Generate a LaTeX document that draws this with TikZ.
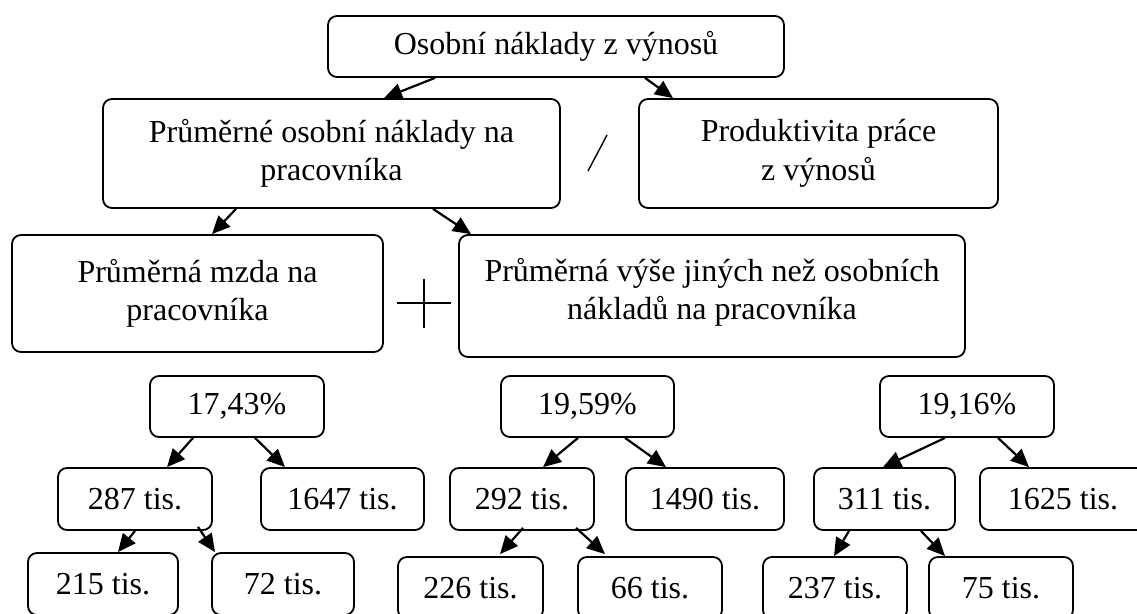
\documentclass[tikz,border=0pt]{standalone}
\usepackage{fontspec}
\setmainfont{Liberation Serif}
\usetikzlibrary{arrows.meta}
\begin{document}
\begin{tikzpicture}[x=1pt,y=-1pt,
  box/.style={draw, line width=1.8pt, rounded corners=9pt, inner sep=0pt, align=center,
    font=\fontsize{32}{38.5}\selectfont},
  bigrow/.style={box, minimum height=109pt},
  pct/.style={box, minimum height=61pt},
  num/.style={box, minimum height=62pt},
  arr/.style={line width=2.2pt, -{Triangle[length=18pt,width=16pt]}},
  sign/.style={line width=1.4pt},
]
\fill[white] (0,0) rectangle (1137,613);
\useasboundingbox (0,0) rectangle (1137,613);

% top levels
\node[box, minimum width=456pt, minimum height=61pt] (top) at (556,46.5) {Osobní náklady z výnosů};
\node[bigrow, minimum width=457pt] (p1) at (331.5,153.5) {Průměrné osobní náklady na\\pracovníka};
\node[bigrow, minimum width=359pt] (prod) at (818.5,153.5) {Produktivita práce\\z výnosů};
\node[box, minimum width=371pt, minimum height=117pt] (mzda) at (197.5,293.5) {Průměrná mzda na\\pracovníka};
\node[box, minimum width=506pt, minimum height=122pt] (p4) at (712,296) {Průměrná výše jiných než osobních\\nákladů na pracovníka\vphantom{\raisebox{-14pt}{x}}};

% operators
\coordinate (s1) at (607,135);
\coordinate (s2) at (588,171);
\draw[sign] (s1) -- (s2);
\coordinate (ph1) at (397,303);
\coordinate (ph2) at (451,303);
\coordinate (pv1) at (424,279);
\coordinate (pv2) at (424,328);
\draw[sign] (ph1) -- (ph2);
\draw[sign] (pv1) -- (pv2);

% percentages
\node[pct, minimum width=174pt] (pa) at (237,406.5) {17,43\%};
\node[pct, minimum width=173pt] (pb) at (587.5,406.5) {19,59\%};
\node[pct, minimum width=174pt] (pc) at (967,406.5) {19,16\%};

% row 2
\node[num, minimum width=154pt] (a1) at (135,499) {287 tis.};
\node[num, minimum width=163pt] (a2) at (342.5,499) {1647 tis.};
\node[num, minimum width=144pt] (b1) at (522,499) {292 tis.};
\node[num, minimum width=158pt] (b2) at (705,499) {1490 tis.};
\node[num, minimum width=141pt] (c1) at (884.5,499) {311 tis.};
\node[num, minimum width=166pt] (c2) at (1063,499) {1625 tis.};

% row 3
\node[num, minimum width=150pt] (a11) at (103,584) {215 tis.};
\node[num, minimum width=142pt] (a12) at (283,584) {72 tis.};
\node[num, minimum width=145pt] (b11) at (470.5,588) {226 tis.};
\node[num, minimum width=144pt] (b12) at (650,588) {66 tis.};
\node[num, minimum width=144pt] (c11) at (835,588) {237 tis.};
\node[num, minimum width=144pt] (c12) at (1001,588) {75 tis.};

% connectors
\draw[arr] ([xshift=-121pt]top.south) -- ([xshift=52.5pt]p1.north);
\draw[arr] ([xshift=89pt]top.south) -- ([xshift=-145.5pt]prod.north);
\draw[arr] ([xshift=-95.5pt]p1.south) -- ([xshift=14.5pt]mzda.north);
\draw[arr] ([xshift=101.5pt]p1.south) -- ([xshift=-241pt]p4.north);

\draw[arr] ([xshift=-44pt]pa.south) -- ([xshift=32pt]a1.north);
\draw[arr] ([xshift=18pt]pa.south) -- ([xshift=-57.5pt]a2.north);
\draw[arr] ([xshift=-9.5pt]pb.south) -- ([xshift=21pt]b1.north);
\draw[arr] ([xshift=37.5pt]pb.south) -- ([xshift=-39pt]b2.north);
\draw[arr] ([xshift=-22pt]pc.south) -- ([xshift=-1.5pt]c1.north);
\draw[arr] ([xshift=31pt]pc.south) -- ([xshift=-34pt]c2.north);

\draw[arr] ([xshift=0pt]a1.south) -- ([xshift=15pt]a11.north);
\draw[arr] ([xshift=63pt,yshift=4pt]a1.south) -- ([xshift=-68pt]a12.north);
\draw[arr] ([xshift=1pt,yshift=3pt]b1.south) -- ([xshift=29.5pt,yshift=2pt]b11.north);
\draw[arr] ([xshift=54pt,yshift=3pt]b1.south) -- ([xshift=-45pt,yshift=2pt]b12.north);
\draw[arr] ([xshift=-35.5pt]c1.south) -- ([xshift=-1pt]c11.north);
\draw[arr] ([xshift=36.5pt]c1.south) -- ([xshift=-56pt]c12.north);
\end{tikzpicture}
\end{document}
